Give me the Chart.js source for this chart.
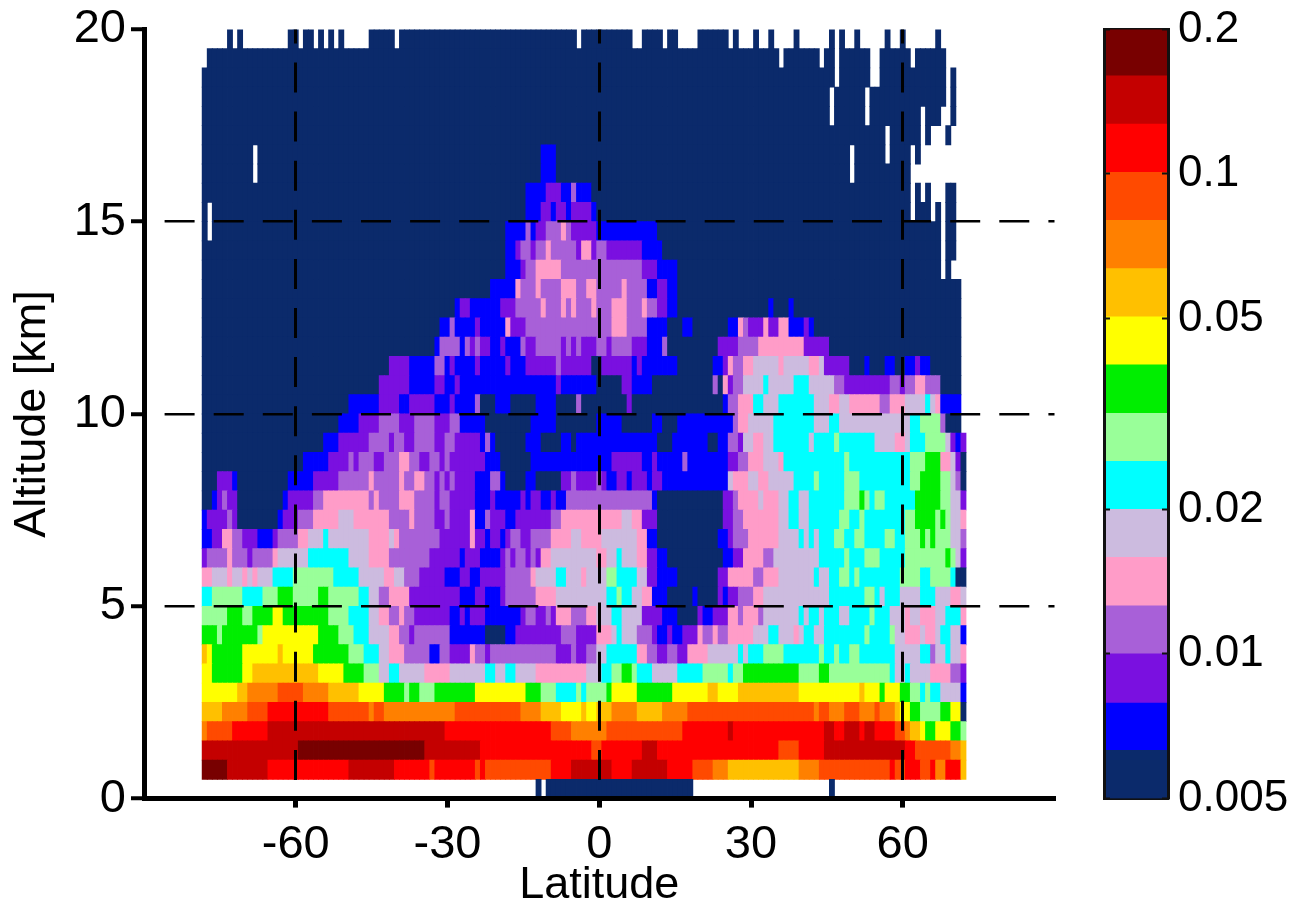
<!DOCTYPE html>
<html>
<head>
<meta charset="utf-8">
<script src="https://cdn.jsdelivr.net/npm/chart.js@4"></script>
<style>
  body { margin: 0; background: #fff; }
  canvas { position: absolute; top: 0; }
</style>
</head>
<body>
<canvas id="mainChart" width="1085" height="910" style="left:0"></canvas>
<canvas id="colorBar" width="204" height="910" style="left:1090px"></canvas>
<script>
// Latitude of each column
const latitudes = [
  -78,-77,-76,-75,-74,-73,-72,-71,-70,-69,-68,-67,-66,-65,-64,-63,-62,-61,-60,-59,-58,-57,-56,-55,-54,
  -53,-52,-51,-50,-49,-48,-47,-46,-45,-44,-43,-42,-41,-40,-39,-38,-37,-36,-35,-34,-33,-32,-31,-30,-29,
  -28,-27,-26,-25,-24,-23,-22,-21,-20,-19,-18,-17,-16,-15,-14,-13,-12,-11,-10,-9,-8,-7,-6,-5,-4,
  -3,-2,-1,0,1,2,3,4,5,6,7,8,9,10,11,12,13,14,15,16,17,18,19,20,21,
  22,23,24,25,26,27,28,29,30,31,32,33,34,35,36,37,38,39,40,41,42,43,44,45,46,
  47,48,49,50,51,52,53,54,55,56,57,58,59,60,61,62,63,64,65,66,67,68,69,70,71,72
];

// Lower edge of each altitude band [km]
const altitudes = [0,0.5,1,1.5,2,2.5,3,3.5,4,4.5,5,5.5,6,6.5,7,7.5,8,8.5,9,9.5,
  10,10.5,11,11.5,12,12.5,13,13.5,14,14.5,15,15.5,16,16.5,17,17.5,18,18.5,19,19.5];

// One string per altitude band, bottom first.
// Token = colour level (hex digit, '.' = no data) + column index where that run stops
const rowRuns = [
  ".66 067 .68 097 .124 0125 .151",
  "f5 e13 d29 e38 d45 c46 d54 c55 d56 c69 d73 e81 d85 e92 d97 c101 b104 a118 b122 c136 d137 c139 d142 c144 d145 b147 d150 a151",
  "e19 f44 e55 d77 c79 d87 e90 d114 c118 d123 e139 d141 c148 b150 a151",
  "b1 c6 d13 e48 d69 c73 b80 c95 d104 e105 d123 e125 d127 e130 d131 e133 d137 c139 b140 a142 9143 8145 9148 8150 7151",
  "a4 b9 c13 d25 c33 b34 c36 b50 c63 b67 a71 975 a76 978 a81 b86 a91 b96 c121 b122 c124 b127 c130 b133 c134 b137 a138 9140 8142 7146 8148 9150 0151",
  "97 a9 b15 c20 b25 a31 936 840 741 843 746 854 964 867 770 674 775 676 780 881 986 893 9100 a102 9106 a118 9130 a131 9134 8135 9138 8140 7142 6143 7144 6146 5150 1151",
  "92 88 910 a23 928 832 735 537 639 544 449 551 556 658 560 662 566 476 579 681 783 885 786 689 594 699 7104 6105 7107 8118 7122 8124 7136 6137 5139 6140 5144 4148 3150 2151",
  "a1 92 88 915 a16 922 829 732 635 537 440 345 147 349 251 253 454 356 257 370 273 374 276 378 580 686 488 390 292 394 296 4100 5106 6107 5108 6111 7115 6122 7123 6125 7126 6128 7130 6137 5142 6144 3145 5147 6148 5150 4151",
  "83 74 811 712 923 827 730 633 537 439 341 242 349 151 156 060 162 267 271 374 278 481 582 683 586 389 290 192 293 195 298 499 3101 4102 3104 4109 5112 6114 5117 4118 5119 6121 5123 6131 7132 6136 7137 5139 4142 5143 4145 5146 6148 5150 1151",
  "75 88 710 814 916 825 727 729 633 535 437 339 440 342 249 151 252 153 256 163 264 366 268 369 270 473 376 478 581 683 587 291 194 098 299 1101 2104 4106 3107 4110 3111 5118 6119 5120 6122 5123 6126 5128 6132 7133 6136 5139 4140 5142 4145 5147 6150 4151",
  "62 78 612 715 818 723 825 731 633 535 337 441 251 154 256 159 260 362 366 470 580 682 783 685 587 489 192 097 198 0102 2103 1104 2106 3109 4111 5124 6131 7133 6134 5135 6138 5142 6145 5148 4150 5151",
  "42 55 46 58 49 510 411 514 618 726 631 536 438 540 343 248 151 253 155 260 365 466 570 672 575 476 580 782 686 588 290 194 0102 2104 4109 3111 4114 5121 6122 5124 6126 7128 6129 7130 6138 7142 6144 7148 6149 0151",
  "21 35 46 39 210 314 415 521 629 533 437 345 251 152 255 159 260 361 262 364 265 366 267 469 578 480 582 683 586 488 290 192 0103 1105 2107 4111 3113 5122 6127 7128 6131 7134 6139 7147 8148 7149 5150 2151",
  "12 24 46 38 211 114 215 319 421 524 625 533 437 538 439 347 253 454 256 157 259 160 261 363 265 369 473 575 479 586 488 190 0102 1104 2105 3108 4114 5118 6119 5120 6121 5122 6125 7127 6129 7131 6135 7137 6139 7142 8143 7144 8145 7148 5150 3151",
  "11 25 36 27 015 116 219 322 427 530 437 341 442 346 248 349 253 454 156 357 260 162 269 371 483 585 487 290 0103 2105 3107 4114 5116 6118 5120 6126 7128 6130 7131 6139 7141 8145 7146 8147 7148 5150 4151",
  "02 13 24 35 27 016 117 222 324 433 334 435 339 442 346 247 349 254 157 258 163 264 165 267 169 270 172 380 381 389 190 0103 2105 3106 4110 5111 4114 5116 6118 5120 6127 7130 8131 7132 6133 7135 6141 8146 7148 5150 2151",
  "03 26 17 017 122 227 333 434 339 440 342 444 346 247 348 249 350 254 157 359 160 064 166 071 273 374 278 379 280 182 284 185 288 189 291 1104 5105 4108 5110 4112 5117 6121 7122 6127 7130 6140 7142 8146 7148 5149 3150 0151",
  "020 125 229 330 231 334 236 339 441 343 245 347 248 349 256 159 065 181 287 189 290 195 396 1104 2106 3108 4111 5114 4115 6127 7128 6140 7143 8146 4148 5149 2150 0151",
  "024 127 233 337 238 340 242 343 346 248 350 255 156 357 158 064 167 071 173 074 190 093 1100 0102 1104 3106 2107 5109 4111 5113 6120 5121 6125 7126 6133 5137 4139 5140 6143 7147 5148 2149 1150 2151",
  "027 131 235 339 242 346 249 351 156 065 170 078 183 089 191 094 1105 3106 4108 5113 6121 5124 6126 5140 6142 7146 3147 0150 .151",
  "029 133 135 239 141 246 149 250 154 355 058 161 066 170 074 375 084 285 0103 1104 3106 4109 6111 5114 6121 5124 4126 5128 4134 3136 4139 5143 6144 5145 4146 1150 .151",
  "035 241 146 248 150 251 170 271 178 083 285 189 0101 3102 0103 4104 2105 3107 5111 6112 5117 6120 5125 3127 2136 3138 2139 3141 4143 3146 0150 .151",
  "037 241 146 348 149 250 154 255 160 261 164 270 371 277 079 285 186 287 194 0101 1103 2104 4105 3107 4109 5114 4115 5120 4122 5123 2128 0131 1132 0135 1137 0139 1141 2142 1144 0150 .151",
  "046 147 351 152 353 254 355 257 159 260 163 364 266 371 272 373 274 375 278 380 281 385 288 191 392 0102 2106 3110 4119 2124 0150 .151",
  "047 149 350 154 255 160 461 264 381 484 388 192 095 197 0104 1106 4107 3108 2111 4112 2114 4116 1119 2120 1121 0150 .151",
  "050 151 253 159 262 367 468 371 472 373 474 377 478 381 484 387 488 390 292 194 0112 1113 0116 1117 0150 .151",
  "057 162 463 366 467 371 474 376 478 383 484 388 190 292 194 0150 .151",
  "060 163 264 366 471 383 387 290 194 0146 .147 0148 .151",
  "060 162 263 365 266 368 469 374 275 477 278 380 287 191 0146 .147 0149 .151",
  "01 .2 060 164 365 166 268 371 472 373 278 190 0146 .147 0149 .151",
  "01 .2 064 167 269 170 272 173 277 178 0140 .141 0144 .145 0146 .147 0149 .151",
  "064 168 271 173 374 177 0140 .141 0142 .143 0144 .147 0149 .151",
  "010 .11 067 170 0128 .129 0140 .151",
  "010 .11 067 170 0128 .129 0135 .136 0140 .141 0142 .151",
  "0135 .136 0142 .143 0144 .147 0148 .151",
  "0124 .125 0131 .132 0142 .143 0146 .148 0149 .151",
  "0124 .125 0131 .132 0147 .148 0149 .151",
  "0125 .126 0132 .134 0147 .148 0149 .151",
  ".1 0114 .115 0122 .123 0125 .126 0132 .134 0140 .141 0147 .151",
  ".5 06 .7 08 .17 019 .20 022 .23 024 .25 026 .27 028 .33 038 .39 074 .75 085 .87 091 .92 094 .98 0104 .105 0106 .109 0110 .112 0113 .117 0118 .124 0125 .126 0127 .129 0130 .135 0136 .138 0139 .145 0146 .151"
];

// Colour levels, lowest first, and their edges on the colour bar
const levelColors = ['#0b2a6b','#0000ff','#7a10e0','#a860d8','#ff9cc8','#ccbbdf','#00ffff','#99ff99',
  '#00ee00','#ffff00','#ffc000','#ff8000','#ff4a00','#ff0000','#c40000','#780000'];
const levelEdges = [0.005,0.0063,0.0079,0.01,0.0126,0.0159,0.02,0.0252,0.0317,0.04,0.0504,0.0635,0.08,0.1008,0.127,0.16,0.2];
const colorTicks = [0.005,0.01,0.02,0.05,0.1,0.2];

const rowHeight = 0.5;
const family = '"Liberation Sans", Arial, sans-serif';
const tickFont = { family, size: 47 };
const titleFont = { family, size: 45 };
const barFont = { family, size: 44 };

// one bar dataset per altitude band
function buildRow(runs, alt) {
  const points = [], colors = [];
  let col = 0;
  runs.split(' ').forEach(tok => {
    const stop = parseInt(tok.slice(1));
    for (; col < stop; col++) {
      if (tok[0] === '.') continue;
      points.push({ x: latitudes[col], y: [alt, alt + rowHeight] });
      colors.push(levelColors[parseInt(tok[0], 16)]);
    }
  });
  return { data: points, backgroundColor: colors, borderWidth: 0, inflateAmount: 0.4,
    grouped: false, barPercentage: 1, categoryPercentage: 1 };
}

// fixed axis box, so the label overhang does not push the plot area around
const fixBox = (size) => s => {
  if (s.isHorizontal()) s.height = size; else s.width = size;
  s.paddingTop = s.paddingBottom = s.paddingLeft = s.paddingRight = 0;
};

new Chart(document.getElementById('mainChart'), {
  type: 'bar',
  data: { datasets: rowRuns.map((runs, i) => buildRow(runs, altitudes[i])) },
  options: {
    responsive: false,
    animation: false,
    layout: { padding: { top: 29.4, right: 30.5 } },
    plugins: { legend: { display: false }, tooltip: { enabled: false } },
    scales: {
      x: {
        type: 'linear', min: -90, max: 90, offset: false,
        afterFit: fixBox(111.4),
        ticks: { stepSize: 30, color: '#000', font: tickFont, padding: 9, maxRotation: 0,
          callback: v => (Math.abs(v) === 90 ? '' : String(v)) },
        title: { display: true, text: 'Latitude', color: '#000', font: titleFont, padding: { top: 0, bottom: -3 } },
        border: { color: '#000', width: 5, dash: [30, 19.1], dashOffset: 16, z: 2 },
        grid: {
          z: 1, offset: false, lineWidth: 3, tickLength: 9, tickWidth: 5, tickColor: c => (Math.abs(c.tick.value) === 90 ? 'transparent' : '#000'),
          tickBorderDash: [],
          color: c => ([-60, 0, 60].includes(c.tick.value) ? '#000' : 'transparent')
        }
      },
      y: {
        min: 0, max: 20,
        afterFit: fixBox(144),
        ticks: { stepSize: 5, color: '#000', font: tickFont, padding: 5 },
        title: { display: true, text: 'Altitude [km]', color: '#000', font: titleFont, padding: { top: 6, bottom: 0 } },
        border: { color: '#000', width: 5, dash: [30, 19.1], dashOffset: 31.5, z: 2 },
        grid: {
          z: 1, lineWidth: 2.5, tickLength: 13, tickWidth: 4, tickColor: '#000', tickBorderDash: [],
          color: c => ([5, 10, 15].includes(c.tick.value) ? '#000' : 'transparent')
        }
      }
    }
  }
});

const barTicks = s => { s.ticks = colorTicks.map(v => ({ value: v })); };

new Chart(document.getElementById('colorBar'), {
  type: 'bar',
  data: {
    labels: ['level'],
    datasets: levelColors.map((c, i) => ({
      data: [[levelEdges[i], levelEdges[i + 1]]], backgroundColor: c, borderWidth: 0,
      grouped: false, barPercentage: 1, categoryPercentage: 1
    }))
  },
  options: {
    responsive: false,
    animation: false,
    layout: { padding: { top: 29.4 } },
    plugins: { legend: { display: false }, tooltip: { enabled: false } },
    scales: {
      x: {
        afterFit: fixBox(111.6),
        ticks: { display: false },
        border: { color: '#111', width: 3 },
        grid: { drawOnChartArea: false, drawTicks: false }
      },
      xTop: {
        position: 'top', labels: ['level'], type: 'category',
        afterFit: fixBox(0),
        ticks: { display: false },
        border: { color: '#111', width: 3 },
        grid: { drawOnChartArea: false, drawTicks: false }
      },
      y: {
        type: 'logarithmic', position: 'right', min: 0.005, max: 0.2,
        afterBuildTicks: barTicks,
        afterFit: fixBox(126),
        ticks: { color: '#000', font: barFont, padding: 16, autoSkip: false, callback: v => String(v) },
        border: { color: '#111', width: 3, z: 2 },
        grid: { z: 1, drawOnChartArea: false, tickLength: -6, tickWidth: 2, tickColor: '#111' }
      },
      yLeft: {
        type: 'logarithmic', position: 'left', min: 0.005, max: 0.2,
        afterBuildTicks: barTicks,
        afterFit: fixBox(14),
        ticks: { display: false },
        border: { color: '#111', width: 3, z: 2 },
        grid: { z: 1, drawOnChartArea: false, tickLength: -6, tickWidth: 2, tickColor: '#111' }
      }
    }
  }
});
</script>
</body>
</html>
